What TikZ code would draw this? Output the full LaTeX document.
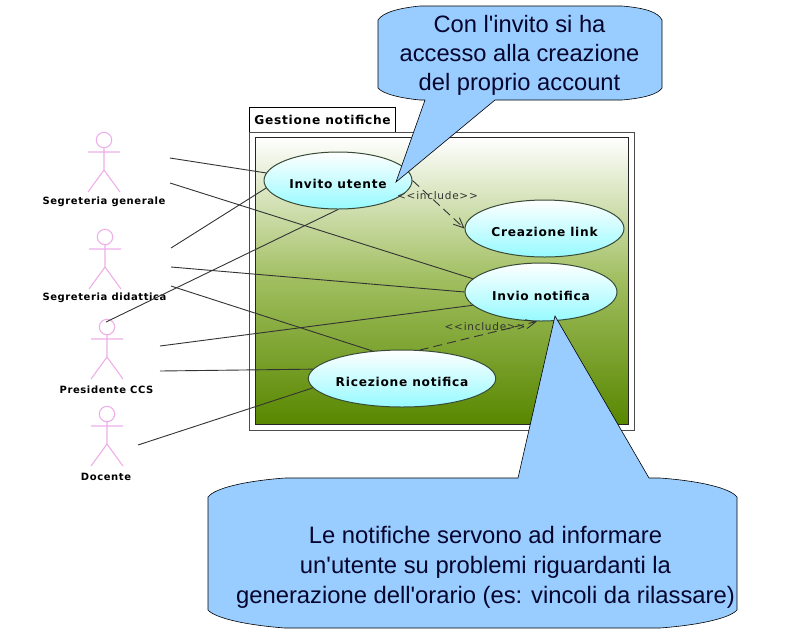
\documentclass[tikz,border=0pt]{standalone}
\usepackage{fontspec}
\usepackage{tikz}
\usetikzlibrary{arrows.meta,shapes.geometric}
\newfontfamily\umlBold[LetterSpace=6]{DejaVu Sans Bold}
\newfontfamily\umlPlain[LetterSpace=7]{DejaVu Sans}
\newfontfamily\noteFont{Liberation Sans}
\definecolor{noteBlue}{RGB}{153,204,255}
\definecolor{noteInk}{RGB}{5,5,45}
\definecolor{actorPink}{RGB}{238,175,232}
\definecolor{umlCyan}{RGB}{150,250,255}
\definecolor{umlEdge}{RGB}{55,75,55}
\definecolor{panelMid}{RGB}{160,190,95}
\definecolor{panelLow}{RGB}{88,135,0}

\begin{document}
\begin{tikzpicture}[x=1pt, y=-1pt, >={Straight Barb[length=10pt,width=9pt]}, semithick]
        \tikzset{
           usecase/.style={
                        ellipse,
                        draw=umlEdge,
                        line width=1pt,
                        top color=white,
                        bottom color=umlCyan,
                        inner sep=0pt,
                        text=black,
                        text height=16pt,
                        text depth=0pt,
                        font=\umlBold\fontsize{12.2}{14}\selectfont
                       },
           actorLabel/.style={
                        text=black,
                        inner sep=0pt,
                        font=\umlBold\fontsize{10}{12}\selectfont
                       },
           includeLabel/.style={
                        text=black!80,
                        inner sep=0pt,
                        font=\umlPlain\fontsize{10.5}{12}\selectfont
                       },
           assoc/.style={
                        draw=black!80,
                        line width=0.9pt
                       },
           includeLine/.style={
                        ->,
                        draw=black!80,
                        line width=0.9pt,
                        dash pattern=on 9pt off 5pt
                       },
           noteBody/.style={
                        draw=black,
                        fill=noteBlue,
                        line width=0.6pt
                       },
           noteText/.style={
                        text=noteInk,
                        align=center,
                        inner sep=0pt,
                        font=\noteFont
                       },
           actorFig/.pic={
                        \draw[actorPink, line width=1.1pt]
                            (0,0) circle (7.7pt)
                            (0,7.7) -- (0,30)
                            (-16,12) -- (16,12)
                            (-16,52) -- (0,30) -- (16,52);
                       },
                 };
        \useasboundingbox (0,0) rectangle (794,638);
    %--------------------
        \draw[draw=black, fill=white, line width=0.7pt] (249,107) rectangle (395,132);
        \draw[draw=black!70, fill=white, line width=1pt] (249,132) rectangle (634,430);
        \draw[draw=black!85, line width=0.7pt, top color=white, bottom color=panelLow, middle color=panelMid] (255,137) rectangle (628,424);
        \node[actorLabel, font=\umlBold\fontsize{12.2}{14}\selectfont] (gestione) at (322.5,119.5) {Gestione notifiche};
    %--------------------
        \pic at (104,140) {actorFig};
        \pic at (105,237) {actorFig};
        \pic at (107,327) {actorFig};
        \pic at (107,414) {actorFig};

        \node[actorLabel] (generale)   at (104,201.5) {Segreteria generale};
        \node[actorLabel] (didattica)  at (104.5,297.5) {Segreteria didattica};
        \node[actorLabel] (presidente) at (106.5,389.5) {Presidente CCS};
        \node[actorLabel] (docente)    at (106,476.5) {Docente};

        \coordinate (fromGeneraleA)   at (170,158);
        \coordinate (fromGeneraleB)   at (170,183);
        \coordinate (fromDidatticaA)  at (171,248);
        \coordinate (fromDidatticaB)  at (171,267);
        \coordinate (fromDidatticaC)  at (171,286);
        \coordinate (fromPresidenteA) at (106,322);
        \coordinate (fromPresidenteB) at (160,346);
        \coordinate (fromPresidenteC) at (160,371);
        \coordinate (fromDocente)     at (138,445);
    %--------------------
        \node[usecase, minimum width=148pt, minimum height=57pt] (invito)    at (338,180.5) {Invito utente};
        \node[usecase, minimum width=159pt, minimum height=57pt] (creazione) at (544.5,228.5) {Creazione link};
        \node[usecase, minimum width=152pt, minimum height=58pt] (invio)     at (541,292) {Invio notifica};
        \node[usecase, minimum width=186pt, minimum height=57pt] (ricezione) at (402,378.5) {Ricezione notifica};

        \node[includeLabel] (includeA) at (437.5,195.5) {<{}<include>{}>};
        \node[includeLabel] (includeB) at (485,326.5) {<{}<include>{}>};
    %--------------------
        \path (fromGeneraleA)   edge[assoc] (invito.174)
              (fromDidatticaA)  edge[assoc] (invito.186)
              (fromPresidenteA) edge[assoc] (invito.south)

              (fromGeneraleB)   edge[assoc] (invio.169)
              (fromDidatticaB)  edge[assoc] (invio.west)
              (fromPresidenteB) edge[assoc] (invio.191)

              (fromDidatticaC)  edge[assoc] (ricezione.137)
              (fromPresidenteC) edge[assoc] (ricezione.174)
              (fromDocente)     edge[assoc] (ricezione.186)

              (invito.east)     edge[includeLine] (creazione.west)
              (ricezione.58)    edge[includeLine] (invio.262);
    %--------------------
        \draw[noteBody] (378,20) .. controls (383,12) and (400,8) .. (420,6)
              -- (622,6) .. controls (645,8) and (658,12) .. (662,20)
              -- (662,88) .. controls (658,94) and (645,98) .. (622,100)
              -- (495,100) -- (396,182) -- (425,100)
              -- (420,100) .. controls (400,98) and (383,94) .. (378,88) -- cycle;
        \draw[noteBody] (208,497) .. controls (215,488) and (245,481) .. (285,478)
              -- (518,478) -- (555,316) -- (649,478)
              -- (660,478) .. controls (700,481) and (730,488) .. (737,497)
              -- (737,610) .. controls (730,618) and (700,625) .. (660,628)
              -- (285,628) .. controls (245,625) and (215,618) .. (208,610) -- cycle;

        \node[noteText, font=\noteFont\fontsize{23.7}{29}\selectfont] (noteInvito) at (519.5,55)
            {Con l'invito si ha\\accesso alla creazione\\del proprio account};
        \node[noteText, font=\noteFont\fontsize{23.8}{30}\selectfont] (noteNotifiche) at (485.5,567)
            {Le notifiche servono ad informare\\un'utente su problemi riguardanti la\\generazione dell'orario (es: vincoli da rilassare)};
    \end{tikzpicture}
\end{document}
